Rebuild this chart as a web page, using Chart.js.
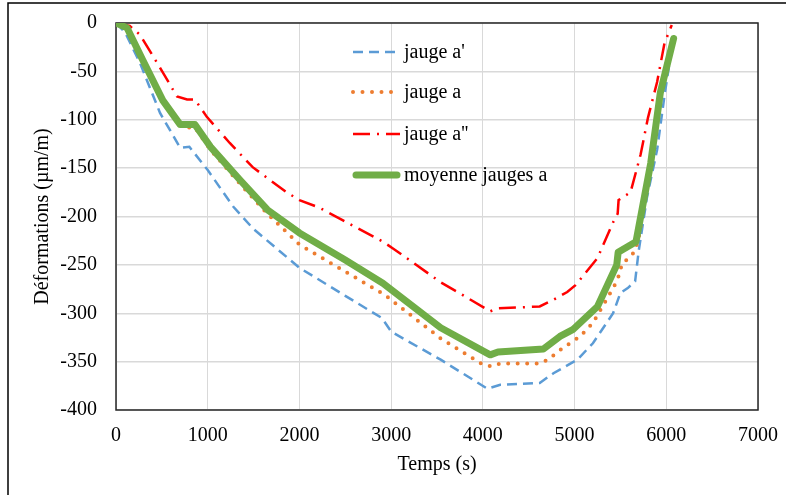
<!DOCTYPE html>
<html lang="fr">
<head>
<meta charset="utf-8">
<title>Déformations - jauges a</title>
<script src="https://cdn.jsdelivr.net/npm/chart.js@4.4.1/dist/chart.umd.min.js"></script>
<style>
    html, body { margin: 0; padding: 0; background: #fff; }
    canvas { display: block; }
</style>
</head>
<body>
<canvas id="deformationsChart" width="786" height="495"></canvas>
<script>
// Valeurs : temps (s) / déformations (µm/m)
const seriesLabels = ["jauge a'", 'jauge a', "jauge a''", 'moyenne jauges a'];

const tempsA1 = [0, 100, 260, 480, 700, 800, 1000, 1280, 1500, 2000, 2500, 2900, 3000, 3540, 4050, 4190, 4620, 4770, 5030, 5200, 5420, 5500, 5580, 5660, 5700, 5790, 5900, 5985, 6070];
const jaugeA1 = [0, -10, -41, -93, -129, -128, -152, -190, -213, -253, -282, -305, -319, -348, -378, -374, -372, -362, -348, -331, -300, -279, -274, -267, -235, -180, -131, -72, -20];

const tempsA = [0, 120, 300, 520, 720, 860, 1030, 1350, 1650, 2000, 2500, 2930, 3540, 4000, 4100, 4190, 4620, 4710, 4870, 5060, 5200, 5310, 5420, 5470, 5520, 5610, 5660, 5700, 5830, 5935, 6070];
const jaugeA = [0, -6, -40, -83, -108, -108, -131, -166, -197, -229, -257, -281, -326, -353, -355, -352, -352, -348, -336, -324, -310, -292, -274, -265, -248, -242, -235, -222, -145, -75, -18];

const tempsA2 = [0, 150, 260, 460, 665, 775, 860, 990, 1240, 1490, 1860, 2000, 2220, 2475, 2910, 3020, 3200, 3540, 3830, 4080, 4165, 4620, 4770, 4920, 5010, 5250, 5420, 5470, 5480, 5610, 5720, 5800, 5900, 5980, 6060];
const jaugeA2 = [0, -3, -12, -43, -76, -79, -79, -97, -124, -149, -175, -183, -191, -204, -226, -233, -245, -268, -284, -298, -295, -293, -286, -278, -271, -243, -206, -197, -183, -175, -136, -98, -61, -21, -2];

const tempsMoy = [0, 120, 290, 510, 700, 860, 1030, 1350, 1650, 2000, 2500, 2910, 3540, 4080, 4165, 4660, 4840, 4980, 5250, 5460, 5475, 5670, 5830, 5935, 6080];
const moyenneA = [0, -5, -38, -80, -105, -105, -128, -162, -193, -217, -245, -269, -315, -343, -340, -337, -324, -317, -293, -250, -237, -226, -145, -72, -16];

const xTicks = [0, 1000, 2000, 3000, 4000, 5000, 6000, 7000];
const yTicks = [0, -50, -100, -150, -200, -250, -300, -350, -400];

const fontFamily = "'Liberation Serif', 'Times New Roman', serif";

function toPoints(xs, ys) {
    return xs.map(function(x, i) { return { x: x, y: ys[i] }; });
}

// Evite que Chart.js réserve de la marge pour les étiquettes en bout d'axe
function noLabelPadding(scale) {
    scale.paddingTop = 0;
    scale.paddingBottom = 0;
    scale.paddingLeft = 0;
    scale.paddingRight = 0;
}

// Cadre extérieur + bordure de la zone de tracé
const framePlugin = {
    id: 'frame',
    beforeDraw: function(chart) {
        const ctx = chart.ctx;
        ctx.save();
        ctx.fillStyle = '#ffffff';
        ctx.fillRect(0, 0, chart.width, chart.height);
        ctx.strokeStyle = '#000000';
        ctx.lineWidth = 1.5;
        ctx.strokeRect(8, 3, chart.width + 20, chart.height + 20);
        ctx.restore();
    },
    beforeDatasetsDraw: function(chart) {
        const a = chart.chartArea;
        const ctx = chart.ctx;
        ctx.save();
        ctx.strokeStyle = '#262626';
        ctx.lineWidth = 1.5;
        ctx.strokeRect(a.left, a.top, a.right - a.left, a.bottom - a.top);
        ctx.restore();
    }
};

// Légende dessinée dans la zone de tracé, comme dans Excel
const legendPlugin = {
    id: 'insideLegend',
    afterDatasetsDraw: function(chart) {
        const ctx = chart.ctx;
        const a = chart.chartArea;
        const x0 = a.left + 237;
        const rows = [29, 69, 111, 152];
        ctx.save();
        ctx.font = '20px ' + fontFamily;
        ctx.textBaseline = 'middle';
        ctx.fillStyle = '#000';
        chart.data.datasets.forEach(function(ds, i) {
            const y = a.top + rows[i];
            ctx.beginPath();
            ctx.strokeStyle = ds.borderColor;
            ctx.lineWidth = ds.borderWidth;
            ctx.lineCap = ds.borderCapStyle || 'butt';
            ctx.setLineDash(ds.borderDash || []);
            ctx.moveTo(x0 + (i === 3 ? 3 : 0), y);
            ctx.lineTo(x0 + 47 - (i === 3 ? 3 : 0), y);
            ctx.stroke();
            ctx.setLineDash([]);
            ctx.fillText(ds.label, x0 + 51, y + 1);
        });
        ctx.restore();
    }
};

const ctx = document.getElementById('deformationsChart').getContext('2d');

new Chart(ctx, {
    type: 'line',
    data: {
        datasets: [
            {
                label: seriesLabels[0],
                data: toPoints(tempsA1, jaugeA1),
                borderColor: '#5B9BD5',
                borderWidth: 2.5,
                borderDash: [10, 6],
                order: 3
            },
            {
                label: seriesLabels[1],
                data: toPoints(tempsA, jaugeA),
                borderColor: '#ED7D31',
                borderWidth: 4,
                borderDash: [0, 9.5],
                borderCapStyle: 'round',
                order: 2
            },
            {
                label: seriesLabels[2],
                data: toPoints(tempsA2, jaugeA2),
                borderColor: '#FF0000',
                borderWidth: 2.5,
                borderDash: [17, 7, 2, 7],
                order: 1
            },
            {
                label: seriesLabels[3],
                data: toPoints(tempsMoy, moyenneA),
                borderColor: '#70AD47',
                borderWidth: 7,
                borderCapStyle: 'round',
                borderJoinStyle: 'round',
                order: 0
            }
        ]
    },
    options: {
        responsive: false,
        animation: false,
        elements: {
            point: { radius: 0, hoverRadius: 0 },
            line: { tension: 0, fill: false }
        },
        layout: {
            padding: { left: 0, top: 23, right: 28, bottom: 0 }
        },
        plugins: {
            legend: { display: false },
            tooltip: { enabled: false }
        },
        scales: {
            x: {
                type: 'linear',
                min: 0,
                max: 7000,
                afterBuildTicks: function(scale) {
                    scale.ticks = xTicks.map(function(v) { return { value: v }; });
                },
                afterFit: function(scale) {
                    scale.height = 85;
                    noLabelPadding(scale);
                },
                grid: { color: '#d9d9d9', lineWidth: 1, drawTicks: false },
                border: { display: false },
                ticks: {
                    padding: 14,
                    color: '#000',
                    font: { family: fontFamily, size: 20 },
                    callback: function(v) { return String(v); }
                },
                title: {
                    display: true,
                    text: 'Temps (s)',
                    color: '#000',
                    font: { family: fontFamily, size: 20 },
                    padding: { top: 0, bottom: 18 }
                }
            },
            y: {
                type: 'linear',
                min: -400,
                max: 0,
                afterBuildTicks: function(scale) {
                    scale.ticks = yTicks.map(function(v) { return { value: v }; });
                },
                afterFit: function(scale) {
                    scale.width = 116;
                    noLabelPadding(scale);
                },
                grid: { color: '#d9d9d9', lineWidth: 1.5, drawTicks: false },
                border: { display: false },
                ticks: {
                    padding: 19,
                    color: '#000',
                    font: { family: fontFamily, size: 20 },
                    callback: function(v) { return String(v); }
                },
                title: {
                    display: true,
                    text: 'Déformations (µm/m)',
                    color: '#000',
                    font: { family: fontFamily, size: 20 },
                    padding: { top: 31, bottom: 0 }
                }
            }
        }
    },
    plugins: [framePlugin, legendPlugin]
});
</script>
</body>
</html>
